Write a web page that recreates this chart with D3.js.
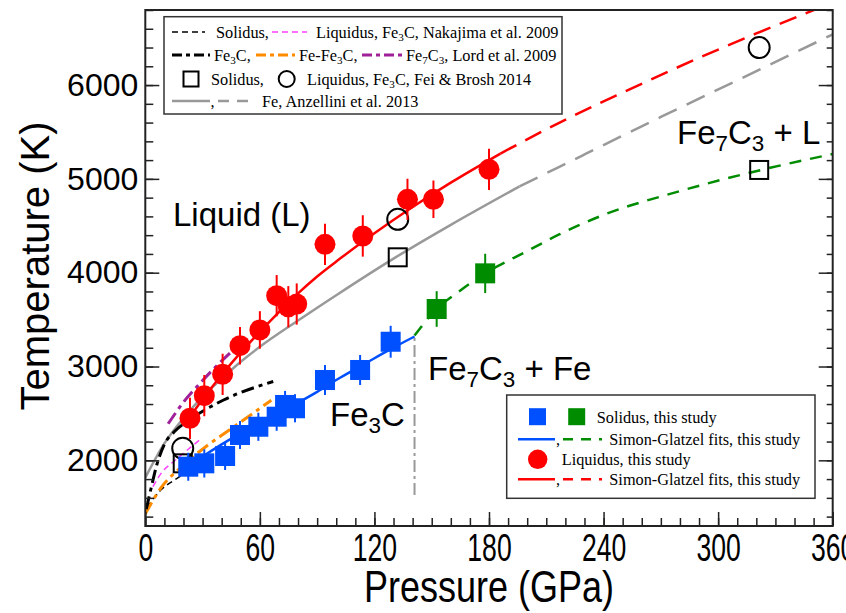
<!DOCTYPE html>
<html><head><meta charset="utf-8">
<script src="https://cdn.jsdelivr.net/npm/d3@7"></script>
<style>body{margin:0;background:#fff}svg{display:block}</style>
</head><body>
<svg id="c" width="846" height="613"></svg>
<script>
// ---------- data ----------
const xTicks = [0, 60, 120, 180, 240, 300, 360];
const yTicks = [2000, 3000, 4000, 5000, 6000];

// This study: liquidus (red circles)
const liqP = [23.4, 30.9, 40.5, 49.6, 60, 68.8, 74.9, 79.3, 94.1, 113.9, 137.3, 150.9, 180];
const liqT = [2448, 2689, 2917, 3222, 3390, 3755, 3637, 3666, 4302, 4391, 4782, 4782, 5102];
const liqErr = [220, 220, 220, 200, 200, 220, 220, 220, 220, 220, 220, 200, 220];
// This study: solidus Fe3C (blue squares)
const solP = [22.5, 30.9, 41.8, 49.6, 59.2, 68.8, 73.2, 78.4, 94.1, 112.5, 128.5];
const solT = [1932, 1968, 2046, 2270, 2358, 2465, 2590, 2555, 2856, 2963, 3264];
const solErr = [150, 150, 150, 150, 150, 150, 150, 150, 160, 160, 170];
// This study: solidus Fe7C3 (green squares)
const sol2P = [152.6, 178];
const sol2T = [3613, 3993];
const sol2Err = [190, 210];

// Fei & Brosh 2014
const fbSolP = [19.6, 132.2, 321.5];
const fbSolT = [1968, 4164, 5095];
const fbLiqP = [19.6, 132.2, 321.5];
const fbLiqT = [2128, 4569, 6400];

// Simon-Glatzel fits
const liqFitP = [21, 30, 40, 50, 60, 70, 80, 90, 102, 120, 140, 160, 186];
const liqFitT = [2390, 2650, 2910, 3150, 3370, 3580, 3780, 3960, 4150, 4420, 4700, 4960, 5270];
const liqExtP = [186, 217, 250, 290, 320, 352];
const liqExtT = [5270, 5600, 5920, 6290, 6550, 6815];
const solFitP = [20, 30, 40, 50, 60, 76, 90, 102, 115, 128, 141];
const solFitT = [1900, 2040, 2170, 2290, 2400, 2570, 2730, 2880, 3030, 3180, 3320];
const sol2FitP = [141, 152.6, 165, 178, 200, 217, 238, 280, 321.5, 360];
const sol2FitT = [3330, 3613, 3810, 3993, 4230, 4410, 4600, 4870, 5090, 5265];

// Fe, Anzellini et al. 2013
const feP = [0, 10, 20, 30, 40, 50, 60, 80, 100, 130, 160, 196];
const feT = [1815, 2180, 2450, 2680, 2870, 3050, 3210, 3490, 3760, 4150, 4510, 4920];
const feExtP = [196, 230, 270, 310, 360];
const feExtT = [4920, 5260, 5660, 6050, 6540];

// Nakajima et al. 2009
const nakSolP = [1, 8, 16, 28];
const nakSolT = [1500, 1680, 1800, 1935];
const nakLiqP = [4, 9, 15, 22, 29.5];
const nakLiqT = [1720, 1880, 1990, 2110, 2235];

// Lord et al. 2009
const lordFe3CP = [0.5, 3, 6, 10, 16, 23, 41, 67];
const lordFe3CT = [1480, 1700, 1950, 2170, 2320, 2430, 2643, 2840];
const lordEutP = [0, 8, 20, 32, 44, 66];
const lordEutT = [1430, 1700, 1950, 2150, 2323, 2640];
const lordFe7C3P = [12, 20, 30, 40, 49];
const lordFe7C3T = [2390, 2620, 2850, 3060, 3230];

// Fe3C / Fe7C3 boundary
const boundP = [141, 141];
const boundT = [1630, 3330];

// ---------- drawing ----------
const svg = d3.select("#c");
const L = 145.3, R = 832.7, T = 10, B = 526;
const x = d3.scaleLinear().domain([0, 360]).range([L, R]);
const y = d3.scaleLinear().domain([1300, 6800]).range([B, T]);
const sans = "'Liberation Sans', Arial, sans-serif";
const serif = "'Liberation Serif', 'Times New Roman', serif";

svg.append("defs").append("clipPath").attr("id", "clip")
  .append("rect").attr("x", L).attr("y", T).attr("width", R - L).attr("height", B - T);

const zip = (P, Tv) => P.map((p, i) => [p, Tv[i]]);
const line = d3.line().x(d => x(d[0])).y(d => y(d[1])).curve(d3.curveMonotoneX);
const g = svg.append("g").attr("clip-path", "url(#clip)");

function curve(P, Tv, color, w, dash) {
  g.append("path").datum(zip(P, Tv)).attr("d", line)
    .attr("fill", "none").attr("stroke", color).attr("stroke-width", w)
    .attr("stroke-dasharray", dash || null);
}

const RED = "#ff0000", BLUE = "#0050ff", GREEN = "#008c00", GRAY = "#999999",
      ORANGE = "#ff8c00", PURPLE = "#a0209a", MAGENTA = "#ff40ff";

// literature curves
curve(feP, feT, GRAY, 2.5);
curve(feExtP, feExtT, GRAY, 2.5, "20,11");
curve(nakSolP, nakSolT, "#000", 1.5, "6,4");
curve(nakLiqP, nakLiqT, MAGENTA, 1.5, "6,4");
curve(lordEutP, lordEutT, ORANGE, 3, "13,5,4,5");
curve(lordFe3CP, lordFe3CT, "#000", 3, "13,5,4,5");
curve(lordFe7C3P, lordFe7C3T, PURPLE, 3, "13,5,4,5");
g.append("line").attr("x1", x(boundP[0])).attr("x2", x(boundP[1]))
  .attr("y1", y(boundT[0])).attr("y2", y(boundT[1]))
  .attr("stroke", GRAY).attr("stroke-width", 2).attr("stroke-dasharray", "12,4,3,4");

// fits
curve(solFitP, solFitT, BLUE, 2.5);
curve(sol2FitP, sol2FitT, GREEN, 2.5, "12,9");
curve(liqFitP, liqFitT, RED, 2.5);
curve(liqExtP, liqExtT, RED, 2.5, "18,10");

// Fei & Brosh open markers
fbSolP.forEach((p, i) => g.append("rect").attr("x", x(p) - 9).attr("y", y(fbSolT[i]) - 9)
  .attr("width", 18).attr("height", 18).attr("fill", "none").attr("stroke", "#000").attr("stroke-width", 2));
fbLiqP.forEach((p, i) => g.append("circle").attr("cx", x(p)).attr("cy", y(fbLiqT[i]))
  .attr("r", 10.5).attr("fill", "none").attr("stroke", "#000").attr("stroke-width", 2));

// data points with error bars
function errs(P, Tv, E, color) {
  P.forEach((p, i) => g.append("line").attr("x1", x(p)).attr("x2", x(p))
    .attr("y1", y(Tv[i] - E[i])).attr("y2", y(Tv[i] + E[i]))
    .attr("stroke", color).attr("stroke-width", 2));
}
errs(solP, solT, solErr, BLUE);
solP.forEach((p, i) => g.append("rect").attr("x", x(p) - 10).attr("y", y(solT[i]) - 10)
  .attr("width", 20).attr("height", 20).attr("fill", BLUE));
errs(sol2P, sol2T, sol2Err, GREEN);
sol2P.forEach((p, i) => g.append("rect").attr("x", x(p) - 10).attr("y", y(sol2T[i]) - 10)
  .attr("width", 20).attr("height", 20).attr("fill", GREEN));
errs(liqP, liqT, liqErr, RED);
liqP.forEach((p, i) => g.append("circle").attr("cx", x(p)).attr("cy", y(liqT[i]))
  .attr("r", 10.5).attr("fill", RED));

// ---------- axes ----------
const minorX = d3.range(0, 361, 10), minorY = d3.range(1400, 6801, 200);
function styleAxis(sel) {
  sel.select(".domain").remove();
  sel.selectAll(".tick line").attr("stroke", "#222").attr("stroke-width", 1.5);
}
svg.append("g").attr("transform", `translate(0,${B})`)
  .call(d3.axisBottom(x).tickValues(minorX).tickSize(-8).tickFormat(""))
  .call(styleAxis);
const xa = svg.append("g").attr("transform", `translate(0,${B})`)
  .call(d3.axisBottom(x).tickValues(xTicks).tickSize(-14).tickPadding(8).tickFormat(d3.format("d")))
  .call(styleAxis);
xa.selectAll("text").attr("font-family", sans).attr("font-size", 38).attr("fill", "#000")
  .attr("transform", "scale(0.7,1)");

svg.append("g").attr("transform", `translate(${L},0)`)
  .call(d3.axisLeft(y).tickValues(minorY).tickSize(-8).tickFormat(""))
  .call(styleAxis);
const ya = svg.append("g").attr("transform", `translate(${L},0)`)
  .call(d3.axisLeft(y).tickValues(yTicks).tickSize(-14).tickPadding(7).tickFormat(d3.format("d")))
  .call(styleAxis);
ya.selectAll("text").attr("font-family", sans).attr("font-size", 32).attr("fill", "#000");

svg.append("g").attr("transform", `translate(${R},0)`)
  .call(d3.axisRight(y).tickValues(minorY).tickSize(-6).tickFormat(""))
  .call(styleAxis);
svg.append("g").attr("transform", `translate(${R},0)`)
  .call(d3.axisRight(y).tickValues(yTicks).tickSize(-14).tickFormat(""))
  .call(styleAxis);

svg.append("rect").attr("x", L).attr("y", T).attr("width", R - L).attr("height", B - T)
  .attr("fill", "none").attr("stroke", "#222").attr("stroke-width", 2);

// axis titles
svg.append("text").attr("transform", `translate(${(L + R) / 2},602) scale(0.8,1)`)
  .attr("text-anchor", "middle").attr("font-family", sans).attr("font-size", 45)
  .text("Pressure (GPa)");
svg.append("text").attr("transform", `translate(49,266) rotate(-90)`)
  .attr("text-anchor", "middle").attr("font-family", sans).attr("font-size", 40)
  .text("Temperature (K)");

// ---------- region labels ----------
function rich(parent, xx, yy, parts, size, fam) {
  const t = parent.append("text").attr("x", xx).attr("y", yy)
    .attr("font-family", fam).attr("font-size", size).attr("fill", "#000");
  let prevSub = false;
  parts.forEach(p => {
    if (typeof p === "string") {
      t.append("tspan").text(p).attr("dy", prevSub ? -size * 0.22 : 0);
      prevSub = false;
    } else {
      t.append("tspan").text(p.sub).attr("font-size", size * 0.68).attr("dy", size * 0.22);
      prevSub = true;
    }
  });
  return t;
}
rich(svg, 173, 226, ["Liquid (L)"], 33, sans);
rich(svg, 330, 426, ["Fe", {sub: "3"}, "C"], 33, sans);
rich(svg, 428, 380, ["Fe", {sub: "7"}, "C", {sub: "3"}, " + Fe"], 33, sans);
rich(svg, 677, 144, ["Fe", {sub: "7"}, "C", {sub: "3"}, " + L"], 33, sans);

// ---------- legend 1 ----------
const lg1 = svg.append("g");
lg1.append("rect").attr("x", 164).attr("y", 16.7).attr("width", 398).attr("height", 97.3)
  .attr("fill", "#fff").attr("stroke", "#333").attr("stroke-width", 1.5);
function seg(parent, x1, x2, yy, color, w, dash) {
  parent.append("line").attr("x1", x1).attr("x2", x2).attr("y1", yy).attr("y2", yy)
    .attr("stroke", color).attr("stroke-width", w).attr("stroke-dasharray", dash || null);
}
const FS = 16.3;
seg(lg1, 172, 205, 32, "#000", 1.5, "6,4");
rich(lg1, 216, 37.5, ["Solidus,"], FS, serif);
seg(lg1, 272, 307, 32, MAGENTA, 1.5, "6,4");
rich(lg1, 316, 37.5, ["Liquidus, Fe", {sub: "3"}, "C, Nakajima et al. 2009"], FS, serif);

seg(lg1, 172, 210, 55, "#000", 3, "10,4,4,4");
rich(lg1, 214, 60.5, ["Fe", {sub: "3"}, "C,"], FS, serif);
seg(lg1, 256, 295, 55, ORANGE, 3, "10,4,4,4");
rich(lg1, 299, 60.5, ["Fe-Fe", {sub: "3"}, "C,"], FS, serif);
seg(lg1, 362, 402, 55, PURPLE, 3, "10,4,4,4");
rich(lg1, 406, 60.5, ["Fe", {sub: "7"}, "C", {sub: "3"}, ", Lord et al. 2009"], FS, serif);

lg1.append("rect").attr("x", 183.5).attr("y", 71.5).attr("width", 15).attr("height", 15)
  .attr("fill", "none").attr("stroke", "#000").attr("stroke-width", 2);
rich(lg1, 211, 84.5, ["Solidus,"], FS, serif);
lg1.append("circle").attr("cx", 286.7).attr("cy", 79).attr("r", 8)
  .attr("fill", "none").attr("stroke", "#000").attr("stroke-width", 2);
rich(lg1, 307, 84.5, ["Liquidus, Fe", {sub: "3"}, "C, Fei & Brosh 2014"], FS, serif);

seg(lg1, 172, 210, 101, GRAY, 2.5);
rich(lg1, 210.5, 106.5, [","], FS, serif);
seg(lg1, 218, 256, 101, GRAY, 2.5, "11,8");
rich(lg1, 262, 106.5, ["Fe, Anzellini et al. 2013"], FS, serif);

// ---------- legend 2 ----------
const lg2 = svg.append("g");
lg2.append("rect").attr("x", 506.7).attr("y", 395).attr("width", 308.3).attr("height", 103.3)
  .attr("fill", "#fff").attr("stroke", "#333").attr("stroke-width", 1.5);
lg2.append("rect").attr("x", 529).attr("y", 408.2).attr("width", 17).attr("height", 17).attr("fill", BLUE);
lg2.append("rect").attr("x", 568.2).attr("y", 408.2).attr("width", 17).attr("height", 17).attr("fill", GREEN);
rich(lg2, 596.7, 423, ["Solidus, this study"], FS, serif);
seg(lg2, 518, 555, 439.3, BLUE, 2.5);
rich(lg2, 556, 445, [","], FS, serif);
seg(lg2, 563, 602, 439.3, GREEN, 2.5, "10,8");
rich(lg2, 609.3, 445, ["Simon-Glatzel fits, this study"], FS, serif);
lg2.append("circle").attr("cx", 537.7).attr("cy", 459.3).attr("r", 9.7).attr("fill", RED);
rich(lg2, 561.7, 465, ["Liquidus, this study"], FS, serif);
seg(lg2, 518, 555, 479.3, RED, 2.5);
rich(lg2, 556, 485, [","], FS, serif);
seg(lg2, 563, 602, 479.3, RED, 2.5, "10,8");
rich(lg2, 609.3, 485, ["Simon-Glatzel fits, this study"], FS, serif);
</script>
</body></html>
